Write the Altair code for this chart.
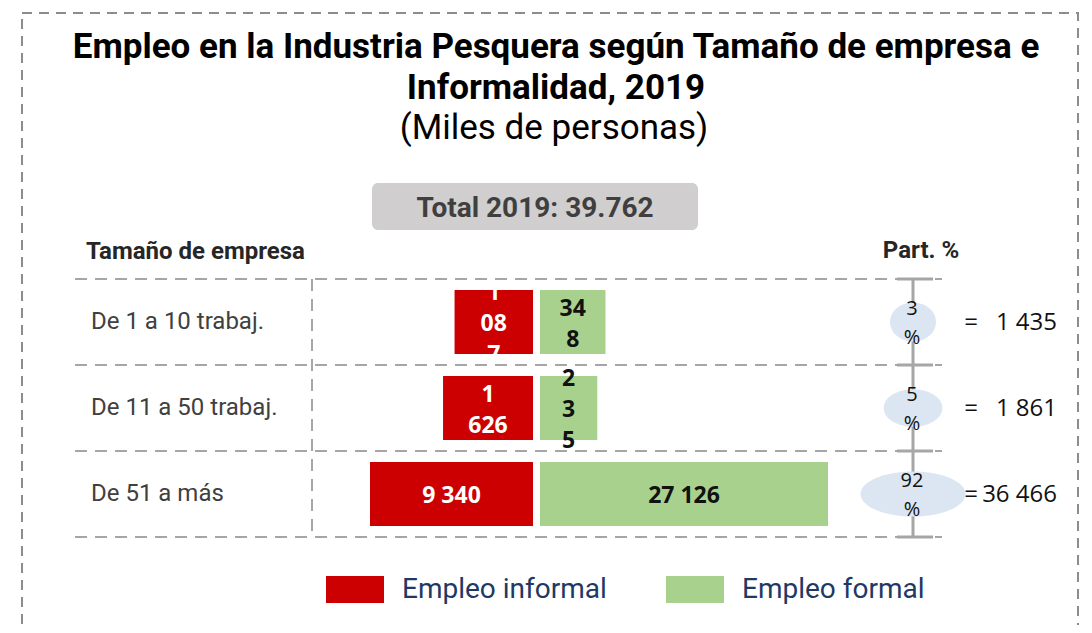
import altair as alt
import pandas as pd

# ---------------- data ----------------
rows = ["De 1 a 10 trabaj.", "De 11 a 50 trabaj.", "De 51 a más"]
informal = [1087, 1626, 9340]
formal = [348, 235, 27126]
informal_labels = ["1\n08\n7", "1\n626", "9 340"]
formal_labels = ["34\n8", "2\n3\n5", "27 126"]
totals = [1435, 1861, 36466]
total_labels = ["1 435", "1 861", "36 466"]
pct = [3, 5, 92]
pct_labels = ["3\n%", "5\n%", "92\n%"]
series = ["Empleo informal", "Empleo formal"]
colors = ["#cc0000", "#a9d18e"]
title_lines = ["Empleo en la Industria Pesquera según Tamaño de empresa e",
               "Informalidad, 2019"]
subtitle = "(Miles de personas)"
total_text = "Total 2019: 39.762"
col_header = "Tamaño de empresa"
part_header = "Part. %"

df = pd.DataFrame({
    "row": rows,
    "pos": [i + 0.5 for i in range(len(rows))],
    "informal": informal,
    "formal": formal,
    "informal_label": informal_labels,
    "formal_label": formal_labels,
    "total": totals,
    "total_label": total_labels,
    "pct": pct,
    "pct_label": pct_labels,
})
seps = pd.DataFrame({"sep": list(range(len(rows) + 1))})
span = pd.DataFrame({"a": [0], "b": [len(rows)]})
one = pd.DataFrame({"k": [0]})

EXP = 0.34
ROW_PX = (529 - 271) / len(rows)
xr = alt.Scale(type="pow", exponent=EXP, domain=[0, max(informal)], range=[525, 362], nice=False)
xg = alt.Scale(type="pow", exponent=EXP, domain=[0, max(formal)], range=[532, 820], nice=False)
ys = alt.Scale(domain=[0, len(rows)], range=[271, 529], nice=False, zero=False)

GRID = "#a6a6a6"


def centered_y(field, lh):
    # first-line y so that a multi-line block is centred on the row
    return (f"datum.pos - (length(split(datum.{field}, '\\n')) - 1) * 0.5 * {lh / ROW_PX}")


color = alt.Color(
    "tipo:N",
    scale=alt.Scale(domain=series, range=colors),
    legend=alt.Legend(
        title=None, orient="none", legendX=318, legendY=552.5,
        direction="horizontal",
        symbolType="M-1,-0.466H1V0.466H-1Z", symbolSize=3364,
        symbolStrokeWidth=0, symbolOpacity=1,
        labelFont="Roboto", labelFontSize=28, labelColor="#1f3864",
        labelOffset=18, columnPadding=59, padding=0, labelLimit=400,
    ),
)

base = alt.Chart(df)

# border
border = alt.Chart(one).mark_rect(
    fill="transparent", stroke="#8c8c8c", strokeWidth=2, strokeDash=[10, 7]
).encode(x=alt.value(14), x2=alt.value(1070), y=alt.value(5), y2=alt.value(640))

title = alt.Chart(one).mark_text(
    font="Roboto", fontSize=35, fontWeight="bold", color="#000000",
    align="center", baseline="alphabetic", lineHeight=41,
).encode(x=alt.value(548), y=alt.value(50), text=alt.value(title_lines))

sub = alt.Chart(one).mark_text(
    font="Roboto", fontSize=35, color="#000000", align="center", baseline="alphabetic",
).encode(x=alt.value(546), y=alt.value(131), text=alt.value(subtitle))

tbox = alt.Chart(one).mark_rect(cornerRadius=6, color="#d0cece").encode(
    x=alt.value(364), x2=alt.value(690), y=alt.value(175), y2=alt.value(222))
ttext = alt.Chart(one).mark_text(
    font="Roboto", fontSize=28, fontWeight="bold", color="#3f3f3f",
    align="center", baseline="alphabetic",
).encode(x=alt.value(527), y=alt.value(209), text=alt.value(total_text))

h1 = alt.Chart(one).mark_text(
    font="Roboto", fontSize=24, fontWeight="bold", color="#262626",
    align="left", baseline="alphabetic",
).encode(x=alt.value(78), y=alt.value(251), text=alt.value(col_header))
h2 = alt.Chart(one).mark_text(
    font="Roboto", fontSize=24, fontWeight="bold", color="#262626",
    align="center", baseline="alphabetic",
).encode(x=alt.value(913), y=alt.value(250), text=alt.value(part_header))

# grid lines
sep_rules = alt.Chart(seps).mark_rule(color=GRID, strokeWidth=2, strokeDash=[12, 8]).encode(
    y=alt.Y("sep:Q", scale=ys, axis=None), x=alt.value(67), x2=alt.value(934))
vdash = alt.Chart(span).mark_rule(color=GRID, strokeWidth=2, strokeDash=[12, 8]).encode(
    x=alt.value(304), y=alt.Y("a:Q", scale=ys, axis=None), y2="b:Q")
vline = alt.Chart(span).mark_rule(color=GRID, strokeWidth=3).encode(
    x=alt.value(905), y=alt.Y("a:Q", scale=ys, axis=None), y2="b:Q")
caps = alt.Chart(seps).mark_rule(color=GRID, strokeWidth=3).encode(
    y=alt.Y("sep:Q", scale=ys, axis=None), x=alt.value(889), x2=alt.value(925))

# row labels
row_text = base.mark_text(
    font="Roboto", fontSize=24, color="#404040", align="left", baseline="middle",
).encode(x=alt.value(83), y=alt.Y("pos:Q", scale=ys, axis=None), text="row:N")

# bars
red_bars = base.transform_calculate(
    tipo=f"'{series[0]}'", ylo="datum.pos - 0.372", yhi="datum.pos + 0.372", z="0"
).mark_rect().encode(
    x=alt.X("informal:Q", scale=xr, axis=None), x2="z:Q",
    y=alt.Y("ylo:Q", scale=ys, axis=None), y2="yhi:Q", color=color)
green_bars = base.transform_calculate(
    tipo=f"'{series[1]}'", ylo="datum.pos - 0.372", yhi="datum.pos + 0.372", z="0"
).mark_rect().encode(
    x=alt.X("formal:Q", scale=xg, axis=None), x2="z:Q",
    y=alt.Y("ylo:Q", scale=ys, axis=None), y2="yhi:Q", color=color)

LH = 31
red_text = base.transform_calculate(
    xm=f"datum.informal * pow(0.5, 1/{EXP})",
    yt=centered_y("informal_label", LH),
).mark_text(
    font="Open Sans", fontSize=23, fontWeight="bold", color="white",
    lineBreak="\n", lineHeight=LH, baseline="middle", align="center", dy=2,
).encode(x=alt.X("xm:Q", scale=xr, axis=None), y=alt.Y("yt:Q", scale=ys, axis=None),
         text="informal_label:N")
green_text = base.transform_calculate(
    xm=f"datum.formal * pow(0.5, 1/{EXP})",
    yt=centered_y("formal_label", LH),
).mark_text(
    font="Open Sans", fontSize=23, fontWeight="bold", color="#111111",
    lineBreak="\n", lineHeight=LH, baseline="middle", align="center", dy=2,
).encode(x=alt.X("xm:Q", scale=xg, axis=None), y=alt.Y("yt:Q", scale=ys, axis=None),
         text="formal_label:N")

# participation ellipses
ell_paths = [
    "M-1,0A1,0.85,0,1,0,1,0A1,0.85,0,1,0,-1,0Z",
    "M-1,0A1,0.64,0,1,0,1,0A1,0.64,0,1,0,-1,0Z",
    "M-1,0A1,0.43,0,1,0,1,0A1,0.43,0,1,0,-1,0Z",
]
ellipses = base.mark_point(filled=True, opacity=1, color="#dce6f2", strokeWidth=0).encode(
    x=alt.value(905), y=alt.Y("pos:Q", scale=ys, axis=None),
    shape=alt.Shape("row:N", scale=alt.Scale(domain=rows, range=ell_paths), legend=None),
    size=alt.Size("pct:Q", scale=alt.Scale(type="log", domain=[min(pct), max(pct)],
                                            range=[2116, 11025]), legend=None),
)
PLH = 29
pct_text = base.transform_calculate(
    yt=centered_y("pct_label", PLH),
).mark_text(
    font="Open Sans", fontSize=20, color="#111111", lineBreak="\n", lineHeight=PLH,
    align="center", baseline="middle", dy=1,
).encode(x=alt.value(904), y=alt.Y("yt:Q", scale=ys, axis=None), text="pct_label:N")

eq_text = base.mark_text(
    font="Open Sans", fontSize=24, color="#111111", align="center", baseline="middle", dy=1,
).encode(x=alt.value(963), y=alt.Y("pos:Q", scale=ys, axis=None), text=alt.value("="))
tot_text = base.mark_text(
    font="Open Sans", fontSize=24, color="#111111", align="right", baseline="middle", dy=1,
).encode(x=alt.value(1049), y=alt.Y("pos:Q", scale=ys, axis=None), text="total_label:N")

chart = alt.layer(
    border, title, sub, tbox, ttext, h1, h2,
    sep_rules, vdash, vline, caps, row_text,
    red_bars, green_bars, red_text, green_text,
    ellipses, pct_text, eq_text, tot_text,
).resolve_scale(x="independent").properties(
    width=1076, height=617, padding=0, autosize="none", background="white",
).configure_view(stroke=None)

chart.save("out.html", embed_options={"renderer": "svg", "actions": False})
